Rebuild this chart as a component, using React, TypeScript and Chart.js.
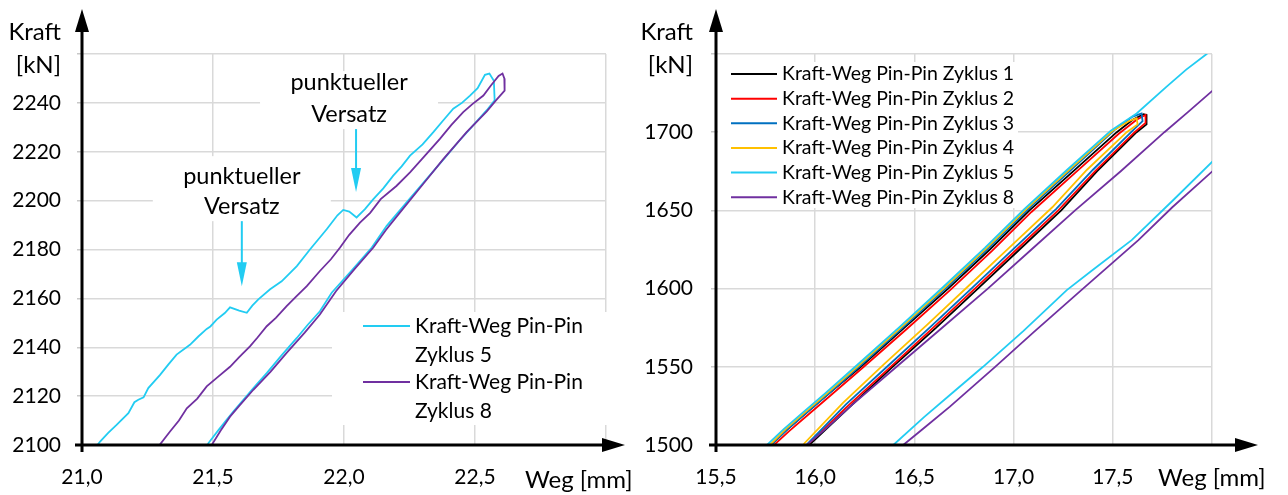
import React, { useEffect, useRef } from "react";
import { Chart, registerables } from "chart.js";

Chart.register(...registerables);

const FONT = "Lato, 'Open Sans', sans-serif";

// ---------------- Left chart data ----------------
const leftXRange = [21.0, 23.0];
const leftXStep = 0.5;
const leftYRange = [2100, 2260];
const leftYStep = 20;
const leftLabels = ["Kraft-Weg Pin-Pin Zyklus 5", "Kraft-Weg Pin-Pin Zyklus 8"];
const leftLegendLines = [["Kraft-Weg Pin-Pin", "Zyklus 5"], ["Kraft-Weg Pin-Pin", "Zyklus 8"]];
const leftColors = ["#22CCF2", "#7030A0"];
const annotationLines = ["punktueller", "Versatz"];
// anchor points (arrow tips) of the two annotations, in data units
const annotationTips = [[21.61, 2165], [22.046, 2203.5]];

const leftZyklus5 = [
  [21.045, 2098], [21.069, 2101.4], [21.1, 2105], [21.132, 2108.2], [21.177, 2113], [21.2, 2117.5],
  [21.215, 2118.5], [21.235, 2119.5], [21.253, 2123.3], [21.298, 2128.7], [21.33, 2133], [21.361, 2137],
  [21.412, 2141], [21.445, 2144.5], [21.476, 2147.5], [21.49, 2148.5], [21.514, 2151.3], [21.545, 2154],
  [21.565, 2156.3], [21.6, 2155], [21.629, 2154.1], [21.65, 2157], [21.673, 2159.6], [21.718, 2163.7],
  [21.762, 2167], [21.82, 2173.2], [21.87, 2180], [21.934, 2188.3], [21.975, 2194], [21.997, 2196.2],
  [22.02, 2195.5], [22.048, 2193.1], [22.08, 2196.5], [22.112, 2200.6], [22.15, 2205], [22.188, 2210.2],
  [22.22, 2214], [22.252, 2218.4], [22.3, 2223], [22.341, 2228], [22.38, 2233], [22.417, 2237.6],
  [22.45, 2240], [22.481, 2243], [22.51, 2246], [22.538, 2251.5], [22.555, 2252], [22.572, 2249],
  [22.575, 2241], [22.545, 2237], [22.481, 2229.4], [22.44, 2224.5], [22.392, 2218.4], [22.315, 2208.8],
  [22.239, 2199.3], [22.163, 2189.7], [22.106, 2180.8], [22.03, 2171.5], [21.953, 2162.3], [21.908, 2154.7],
  [21.86, 2149], [21.82, 2143.8], [21.76, 2136.5], [21.705, 2129.4], [21.66, 2124], [21.616, 2118.5],
  [21.58, 2114], [21.552, 2110.3], [21.52, 2106], [21.482, 2100.7], [21.475, 2098],
];

const leftZyklus8 = [
  [21.285, 2098], [21.291, 2099.3], [21.336, 2105.5], [21.37, 2110], [21.4, 2115], [21.44, 2119],
  [21.476, 2124], [21.52, 2128], [21.565, 2132], [21.6, 2136], [21.641, 2140.4], [21.67, 2144],
  [21.705, 2148.6], [21.74, 2152], [21.781, 2156.8], [21.82, 2161], [21.858, 2165], [21.908, 2171.2],
  [21.95, 2176], [21.985, 2180.8], [22.02, 2186], [22.061, 2191], [22.1, 2195], [22.14, 2200.6],
  [22.2, 2206], [22.252, 2211.6], [22.31, 2218.5], [22.366, 2225.3], [22.41, 2231], [22.455, 2236.2],
  [22.49, 2239.5], [22.532, 2243], [22.56, 2247], [22.59, 2251], [22.605, 2252], [22.612, 2250],
  [22.613, 2245], [22.58, 2241], [22.545, 2236.5], [22.468, 2228], [22.379, 2217], [22.302, 2206.8],
  [22.214, 2195.2], [22.16, 2188], [22.112, 2180.8], [22.04, 2172], [21.97, 2163], [21.908, 2153.4],
  [21.85, 2146], [21.781, 2137.7], [21.72, 2130], [21.654, 2122.6], [21.6, 2116], [21.565, 2111.6],
  [21.53, 2106], [21.495, 2100], [21.49, 2098],
];

// ---------------- Right chart data ----------------
const rightXRange = [15.5, 18.0];
const rightXStep = 0.5;
const rightYRange = [1500, 1750];
const rightYStep = 50;
const rightLabels = [
  "Kraft-Weg Pin-Pin Zyklus 1",
  "Kraft-Weg Pin-Pin Zyklus 2",
  "Kraft-Weg Pin-Pin Zyklus 3",
  "Kraft-Weg Pin-Pin Zyklus 4",
  "Kraft-Weg Pin-Pin Zyklus 5",
  "Kraft-Weg Pin-Pin Zyklus 8",
];
const rightColors = ["#000000", "#FF0000", "#0070C0", "#FFC000", "#22CCF2", "#7030A0"];

const rightZyklus1 = [
  [15.76, 1498], [15.86, 1510], [15.96, 1521], [16.07, 1533], [16.23, 1550], [16.45, 1575],
  [16.67, 1600], [16.88, 1625], [17.08, 1650], [17.3, 1675], [17.52, 1700], [17.6, 1708],
  [17.655, 1711.5], [17.67, 1711], [17.67, 1705], [17.62, 1700], [17.42, 1675], [17.24, 1650],
  [17.03, 1625], [16.82, 1600], [16.61, 1575], [16.39, 1550], [16.18, 1525], [15.97, 1500], [15.955, 1498],
];
const rightZyklus2 = [
  [15.775, 1498], [15.87, 1509], [15.97, 1520], [16.08, 1532], [16.245, 1550], [16.46, 1574],
  [16.68, 1599], [16.89, 1624], [17.09, 1649], [17.31, 1674], [17.53, 1699], [17.62, 1708],
  [17.665, 1711], [17.665, 1706], [17.61, 1700], [17.41, 1675], [17.225, 1650], [17.015, 1625],
  [16.805, 1600], [16.595, 1575], [16.38, 1550], [16.165, 1525], [15.96, 1500], [15.95, 1498],
];
const rightZyklus3 = [
  [15.76, 1498], [15.86, 1510], [15.96, 1521], [16.07, 1533], [16.23, 1551], [16.45, 1576],
  [16.665, 1601], [16.875, 1626], [17.075, 1651], [17.29, 1676], [17.505, 1701], [17.6, 1710],
  [17.645, 1712], [17.65, 1707], [17.6, 1701], [17.4, 1676], [17.215, 1651], [17.005, 1626],
  [16.795, 1601], [16.585, 1576], [16.37, 1551], [16.155, 1526], [15.955, 1500], [15.945, 1498],
];
const rightZyklus4 = [
  [15.755, 1498], [15.85, 1510], [15.95, 1521], [16.06, 1533], [16.22, 1551], [16.44, 1576],
  [16.655, 1601], [16.865, 1626], [17.065, 1651], [17.28, 1676], [17.5, 1701], [17.58, 1707],
  [17.62, 1709], [17.625, 1705], [17.57, 1700], [17.37, 1676], [17.195, 1652], [16.985, 1627],
  [16.775, 1602], [16.565, 1577], [16.35, 1552], [16.14, 1527], [15.945, 1501], [15.935, 1498],
];
const rightZyklus5 = [
  [15.74, 1498], [15.84, 1510], [15.94, 1521], [16.05, 1533], [16.21, 1551], [16.43, 1576],
  [16.645, 1601], [16.855, 1626], [17.055, 1651], [17.27, 1676], [17.49, 1701], [17.62, 1712],
  [17.77, 1729], [17.87, 1740], [17.973, 1750], [18.02, 1756], [18.03, 1684], [18.0, 1681],
  [17.8, 1656], [17.595, 1631], [17.4, 1612], [17.268, 1599], [17.05, 1573], [16.846, 1550],
  [16.679, 1532], [16.55, 1518], [16.394, 1500], [16.38, 1498],
];
const rightZyklus8 = [
  [15.95, 1498], [15.957, 1500], [16.05, 1510], [16.18, 1525], [16.41, 1550], [16.64, 1575],
  [16.87, 1600], [17.09, 1625], [17.31, 1650], [17.54, 1675], [17.76, 1700], [17.88, 1713],
  [18.007, 1727], [18.03, 1730], [18.03, 1679], [18.007, 1675.6], [17.8, 1652], [17.629, 1631],
  [17.35, 1600], [17.1, 1572], [16.907, 1550], [16.679, 1524.5], [16.55, 1511], [16.444, 1500],
  [16.43, 1498],
];

// ---------------- helpers ----------------
const toXY = (arr: number[][]) => arr.map(([x, y]) => ({ x, y }));
const fmtComma = (v: number) => v.toFixed(1).replace(".", ",");

function text(ctx: CanvasRenderingContext2D, s: string, x: number, y: number, size: number, align: CanvasTextAlign) {
  ctx.font = `${size}px ${FONT}`;
  ctx.textAlign = align;
  ctx.textBaseline = "middle";
  ctx.fillStyle = "#000";
  ctx.fillText(s, x, y);
}

function baseOptions(p: {
  xr: number[]; xs: number; yr: number[]; ys: number; yw: number; rightPad: number; yPad: number;
}) {
  return {
    responsive: false,
    animation: false,
    devicePixelRatio: 1,
    layout: { padding: { left: 0, right: p.rightPad, top: 54, bottom: 0 } },
    plugins: { legend: { display: false }, tooltip: { enabled: false }, title: { display: false } },
    elements: { point: { radius: 0 }, line: { borderWidth: 1.8, tension: 0 } },
    scales: {
      x: {
        type: "linear",
        min: p.xr[0],
        max: p.xr[1],
        afterFit: (s: any) => { s.height = 50; },
        ticks: {
          stepSize: p.xs,
          autoSkip: false,
          maxRotation: 0,
          padding: 20,
          color: "#000",
          font: { family: FONT, size: 21 },
          callback: (v: any) => (Number(v) >= p.xr[1] - 1e-9 ? "" : fmtComma(Number(v))),
        },
        grid: { color: "#d9d9d9", lineWidth: 1.5, drawTicks: false },
        border: { display: false },
      },
      y: {
        type: "linear",
        min: p.yr[0],
        max: p.yr[1],
        afterFit: (s: any) => { s.width = p.yw; },
        ticks: {
          stepSize: p.ys,
          padding: p.yPad,
          color: "#000",
          font: { family: FONT, size: 21 },
          callback: (v: any) => (Number(v) >= p.yr[1] - 1e-9 ? "" : String(v)),
        },
        grid: { color: "#d9d9d9", lineWidth: 1.5, drawTicks: true, tickLength: 5, tickColor: "#c8c8c8" },
        border: { display: false },
      },
    },
  };
}

function axisArrowPlugin(xTip: number) {
  return {
    id: "axisArrows",
    afterDatasetsDraw(chart: any) {
      const { ctx, chartArea } = chart;
      const { left, bottom } = chartArea;
      ctx.save();
      ctx.strokeStyle = "#000";
      ctx.fillStyle = "#000";
      ctx.lineWidth = 3;
      ctx.beginPath();
      ctx.moveTo(left, bottom + 7);
      ctx.lineTo(left, 30);
      ctx.stroke();
      ctx.beginPath();
      ctx.moveTo(left - 7, 32);
      ctx.lineTo(left + 7, 32);
      ctx.lineTo(left, 9);
      ctx.closePath();
      ctx.fill();
      ctx.beginPath();
      ctx.moveTo(left - 7, bottom);
      ctx.lineTo(xTip - 20, bottom);
      ctx.stroke();
      ctx.beginPath();
      ctx.moveTo(xTip - 23, bottom - 7);
      ctx.lineTo(xTip - 23, bottom + 7);
      ctx.lineTo(xTip, bottom);
      ctx.closePath();
      ctx.fill();
      ctx.restore();
    },
  };
}

function leftDecorPlugin() {
  return {
    id: "leftDecor",
    beforeDatasetsDraw(chart: any) {
      const { ctx, scales, chartArea } = chart;
      ctx.save();
      // annotations
      annotationTips.forEach(([tx, ty], i) => {
        const ax = scales.x.getPixelForValue(tx);
        const ay = scales.y.getPixelForValue(ty);
        const tail = ay - (i === 0 ? 65 : 63);
        const cx = i === 0 ? ax : ax - 7;
        const h = i === 0 ? 65 : 58;
        ctx.fillStyle = "#fff";
        ctx.fillRect(cx - 89, tail - h, 178, h);
        text(ctx, annotationLines[0], cx, tail - (i === 0 ? 45 : 47), 23.5, "center");
        text(ctx, annotationLines[1], cx, tail - 15, 23.5, "center");
        ctx.strokeStyle = leftColors[0];
        ctx.fillStyle = leftColors[0];
        ctx.lineWidth = 2;
        ctx.beginPath();
        ctx.moveTo(ax, tail);
        ctx.lineTo(ax, ay - 22);
        ctx.stroke();
        ctx.beginPath();
        ctx.moveTo(ax - 5, ay - 24);
        ctx.lineTo(ax + 5, ay - 24);
        ctx.lineTo(ax, ay);
        ctx.closePath();
        ctx.fill();
      });
      // legend
      ctx.fillStyle = "#fff";
      ctx.fillRect(332, 312, chartArea.right + 3 - 332, 113);
      leftLegendLines.forEach((lines, i) => {
        const y0 = 326 + i * 56;
        ctx.strokeStyle = leftColors[i];
        ctx.lineWidth = 2;
        ctx.beginPath();
        ctx.moveTo(363, y0);
        ctx.lineTo(410, y0);
        ctx.stroke();
        text(ctx, lines[0], 415, y0, 21, "left");
        text(ctx, lines[1], 415, y0 + 29, 21, "left");
      });
      // axis titles
      text(ctx, "Kraft", 61, 32, 24, "right");
      text(ctx, "[kN]", 61, 65, 24, "right");
      text(ctx, "Weg [mm]", 525, 480, 24, "left");
      ctx.restore();
    },
  };
}

function rightDecorPlugin() {
  return {
    id: "rightDecor",
    beforeDatasetsDraw(chart: any) {
      const { ctx } = chart;
      ctx.save();
      ctx.fillStyle = "#fff";
      ctx.fillRect(78, 62, 300, 146);
      rightLabels.forEach((lab, i) => {
        const y0 = 74 + i * 24.65;
        ctx.strokeStyle = rightColors[i];
        ctx.lineWidth = 2;
        ctx.beginPath();
        ctx.moveTo(91, y0);
        ctx.lineTo(137, y0);
        ctx.stroke();
        text(ctx, lab, 142, y0, 19.5, "left");
      });
      text(ctx, "Kraft", 53, 32, 24, "right");
      text(ctx, "[kN]", 53, 65, 24, "right");
      text(ctx, "Weg [mm]", 518, 478, 24, "left");
      ctx.restore();
    },
  };
}

// later series are drawn on top (as in the original spreadsheet chart)
function makeDataset(label: string, color: string, data: number[][], order: number) {
  return {
    label,
    data: toXY(data),
    borderColor: color,
    backgroundColor: color,
    showLine: true,
    pointRadius: 0,
    borderWidth: 1.8,
    fill: false,
    order,
  };
}

export default function App() {
  const leftRef = useRef<HTMLCanvasElement>(null);
  const rightRef = useRef<HTMLCanvasElement>(null);

  useEffect(() => {
    const left = new Chart(leftRef.current as HTMLCanvasElement, {
      type: "scatter",
      data: {
        datasets: [
          makeDataset(leftLabels[0], leftColors[0], leftZyklus5, 2),
          makeDataset(leftLabels[1], leftColors[1], leftZyklus8, 1),
        ],
      },
      options: baseOptions({ xr: leftXRange, xs: leftXStep, yr: leftYRange, ys: leftYStep, yw: 82, rightPad: 34, yPad: 16 }) as any,
      plugins: [leftDecorPlugin(), axisArrowPlugin(625)],
    } as any);

    const rightSeries = [rightZyklus1, rightZyklus2, rightZyklus3, rightZyklus4, rightZyklus5, rightZyklus8];
    const right = new Chart(rightRef.current as HTMLCanvasElement, {
      type: "scatter",
      data: {
        datasets: rightSeries.map((d, i) => makeDataset(rightLabels[i], rightColors[i], d, rightSeries.length - i)),
      },
      options: baseOptions({ xr: rightXRange, xs: rightXStep, yr: rightYRange, ys: rightYStep, yw: 76, rightPad: 76, yPad: 18 }) as any,
      plugins: [rightDecorPlugin(), axisArrowPlugin(618)],
    } as any);

    return () => {
      left.destroy();
      right.destroy();
    };
  }, []);

  return (
    <div style={{ position: "fixed", left: 0, top: 0, width: 1288, height: 495, background: "#fff" }}>
      <canvas ref={leftRef} width={640} height={495} style={{ position: "absolute", left: 0, top: 0, width: 640, height: 495 }} />
      <canvas ref={rightRef} width={648} height={495} style={{ position: "absolute", left: 640, top: 0, width: 648, height: 495 }} />
    </div>
  );
}
